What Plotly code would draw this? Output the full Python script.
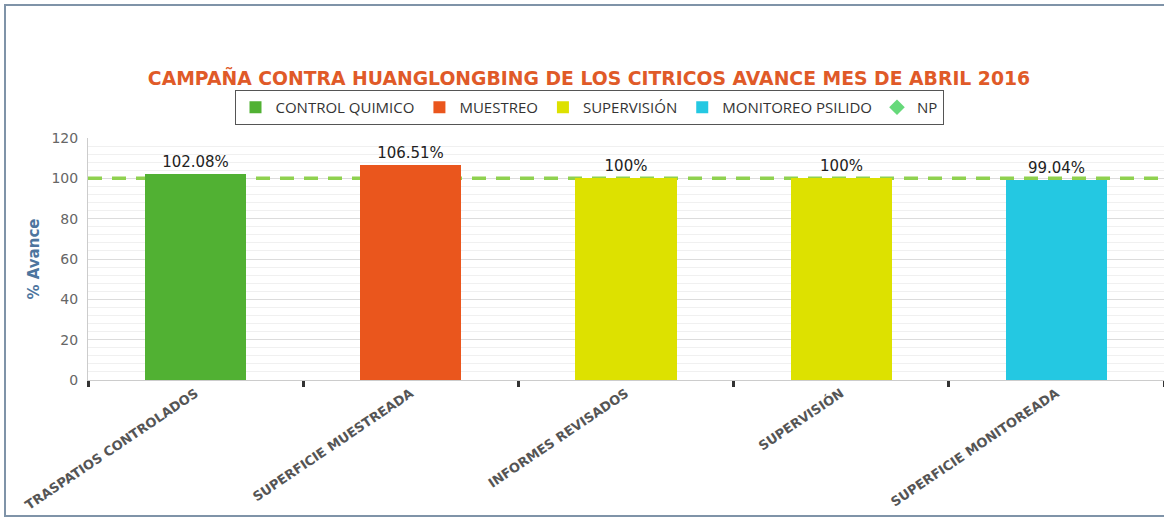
import plotly.graph_objects as go

# ---------------- data ----------------
categories = ["TRASPATIOS CONTROLADOS", "SUPERFICIE MUESTREADA", "INFORMES REVISADOS",
              "SUPERVISIÓN", "SUPERFICIE MONITOREADA"]

control_quimico_x = ["TRASPATIOS CONTROLADOS"]
control_quimico_y = [102.08]

muestreo_x = ["SUPERFICIE MUESTREADA"]
muestreo_y = [106.51]

supervision_x = ["INFORMES REVISADOS", "SUPERVISIÓN"]
supervision_y = [100, 100]

monitoreo_x = ["SUPERFICIE MONITOREADA"]
monitoreo_y = [99.04]

np_value = 100

y_ticks = [0, 20, 40, 60, 80, 100, 120]

title_text = "CAMPAÑA CONTRA HUANGLONGBING DE LOS CITRICOS AVANCE MES DE ABRIL 2016"

# ---------------- layout constants ----------------
W, H = 1164, 518
ML, MR, MT, MB = 88, 0, 138, 138
PW, PH = W - ML - MR, H - MT - MB
BASE_SPAN = [0, 1]  # full extent of the hidden base x axis (NP line spans the plot)


def px_x(x):
    return (x - ML) / PW


def px_y(y):
    return (H - MB - y) / PH


FONT = "DejaVu Sans"

fig = go.Figure()

# NP reference line on the hidden base axis (drawn above grid, below bars)
fig.add_trace(go.Scatter(
    name="NP", x=BASE_SPAN, y=[np_value] * len(BASE_SPAN), xaxis="x", yaxis="y",
    mode="lines", line=dict(color="#8fd14f", width=3.5, dash="14px,10px"),
    showlegend=False, hoverinfo="skip",
))

series = [
    ("CONTROL QUIMICO", control_quimico_x, control_quimico_y, "#51b133"),
    ("MUESTREO", muestreo_x, muestreo_y, "#ea561d"),
    ("SUPERVISIÓN", supervision_x, supervision_y, "#dde100"),
    ("MONITOREO PSILIDO", monitoreo_x, monitoreo_y, "#24c8e2"),
]
for name, xs, ys, color in series:
    fig.add_trace(go.Bar(
        name=name, x=xs, y=ys, width=0.47, xaxis="x2", yaxis="y",
        marker=dict(color=color, line=dict(width=0)),
        texttemplate="%{y}%", textposition="outside", cliponaxis=False,
        textfont=dict(family=FONT, size=15, color="#222222"),
    ))

# NP legend entry
fig.add_trace(go.Scatter(
    name="NP", x=[None], y=[None], mode="markers", xaxis="x2", yaxis="y",
    marker=dict(symbol="diamond", size=13, color="#66d97a"),
))

# frame around the picture
fig.add_shape(type="rect", xref="paper", yref="paper",
              x0=px_x(5), x1=px_x(1175), y0=px_y(516), y1=px_y(5),
              line=dict(color="#7f93a8", width=2), layer="above")

fig.update_layout(
    width=W, height=H,
    margin=dict(l=ML, r=MR, t=MT, b=MB),
    paper_bgcolor="white", plot_bgcolor="white",
    barmode="overlay",
    bargap=0,
    title=dict(text=f"<b>{title_text}</b>", x=589 / W, xanchor="center",
               y=1 - 78 / H, yanchor="middle", yref="container",
               font=dict(family=FONT, size=18.8, color="#e05a28")),
    legend=dict(orientation="h", x=px_x(589), xanchor="center", y=px_y(90), yanchor="top",
                bordercolor="#555555", borderwidth=1, bgcolor="white",
                font=dict(family="Open Sans", size=15, color="#333333"),
                itemsizing="constant", traceorder="normal"),
    showlegend=True,
    xaxis=dict(range=BASE_SPAN, visible=False, showgrid=False, zeroline=False,
               fixedrange=True),
    xaxis2=dict(
        overlaying="x", side="bottom",
        type="category", categoryorder="array", categoryarray=categories,
        tickson="boundaries", ticks="outside", ticklen=6, tickwidth=3, tickcolor="#333333",
        tickangle=-34, tickfont=dict(family=FONT, size=13, color="#555555", weight="bold"),
        showline=True, linecolor="#cccccc", linewidth=1, showgrid=False, zeroline=False,
        range=[-0.5, 4.5],
    ),
    yaxis=dict(
        range=[0, 120], tickvals=y_ticks, ticks="", showline=True, linecolor="#cccccc",
        gridcolor="#dcdcdc", gridwidth=1, zeroline=False,
        minor=dict(dtick=4, showgrid=True, gridcolor="#f0f0f0", gridwidth=1),
        tickfont=dict(family=FONT, size=14, color="#666666"), ticklabelstandoff=6,
        title=dict(text="<b>% Avance</b>", standoff=8,
                   font=dict(family=FONT, size=15, color="#4d759e")),
    ),
)

fig.write_html("out.html", config={"displayModeBar": False},
               post_script="document.body.style.margin='0';")
